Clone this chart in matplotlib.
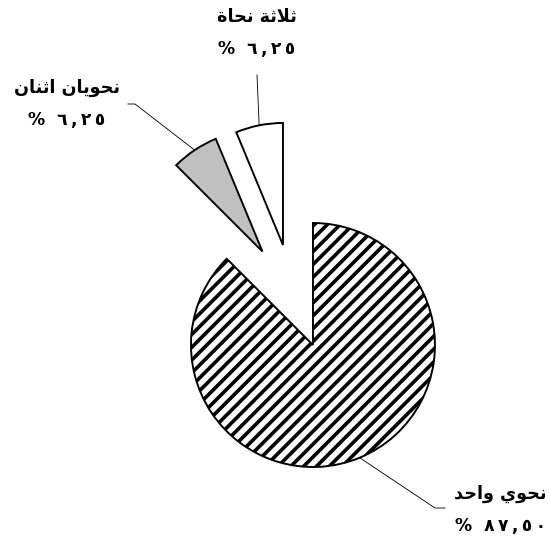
import numpy as np
import matplotlib
matplotlib.use('Agg')
import matplotlib.pyplot as plt

# Data (share of classes by number of grammarians)
labels = ['نحوي واحد', 'نحويان اثنان', 'ثلاثة نحاة']
values = [87.50, 6.25, 6.25]
value_text = ['% ٨٧,٥٠', '% ٦,٢٥', '% ٦,٢٥']
explode = [0.417, 0.458, 0.443]
colors = ['white', '#c0c0c0', 'white']
hatches = ['//', None, None]

# Arabic presentation forms: isolated, final, initial, medial
FORMS = {
    'ا': ('\uFE8D', '\uFE8E', None, None),
    'ث': ('\uFE99', '\uFE9A', '\uFE9B', '\uFE9C'),
    'ل': ('\uFEDD', '\uFEDE', '\uFEDF', '\uFEE0'),
    'ة': ('\uFE93', '\uFE94', None, None),
    'ن': ('\uFEE5', '\uFEE6', '\uFEE7', '\uFEE8'),
    'ح': ('\uFEA1', '\uFEA2', '\uFEA3', '\uFEA4'),
    'و': ('\uFEED', '\uFEEE', None, None),
    'ي': ('\uFEF1', '\uFEF2', '\uFEF3', '\uFEF4'),
    'د': ('\uFEA9', '\uFEAA', None, None),
    'لا': ('\uFEFB', '\uFEFC', None, None),
}


def shape(text):
    # matplotlib does no arabic shaping, so join letters and reverse by hand
    words = []
    for word in text.split(' '):
        toks = []
        i = 0
        while i < len(word):
            if word[i:i + 2] == 'لا':
                toks.append('لا')
                i += 2
            else:
                toks.append(word[i])
                i += 1
        out = ''
        for j, t in enumerate(toks):
            iso, fin, ini, med = FORMS[t]
            prev = j > 0 and FORMS[toks[j - 1]][2] is not None
            nxt = ini is not None and j < len(toks) - 1
            if prev and nxt:
                out += med
            elif prev:
                out += fin
            elif nxt:
                out += ini
            else:
                out += iso
        words.append(out)
    return ' '.join(words)[::-1]


def spaced(text):
    # the original font sets the digits far apart
    return '\u2009'.join(c for c in text if c != ' ').replace('%\u2009', '%  ')


DPI = 77
W, H = 549, 545
R = 122.0            # pie radius in pixels
CX, CY = 293.5, 298  # pie centre in pixels (from top left)

plt.rcParams['hatch.linewidth'] = 3.4
plt.rcParams['font.family'] = ['DejaVu Sans']

fig = plt.figure(figsize=(W / DPI, H / DPI), dpi=DPI, facecolor='white')
ax = fig.add_axes([0, 0, 1, 1])

wedges, _ = ax.pie(values, explode=explode, colors=colors, startangle=90,
                   counterclock=False, radius=1,
                   wedgeprops=dict(edgecolor='black', linewidth=1.8))
for w, h in zip(wedges, hatches):
    if h:
        w.set_hatch(h)

ax.set_xlim(-CX / R, (W - CX) / R)
ax.set_ylim(-(H - CY) / R, CY / R)
ax.set_aspect('equal')
ax.axis('off')


def px(x, y):
    return (x - CX) / R, (CY - y) / R


# label anchor positions (pixels) and leader line elbows
label_pos = [(546, 494), (67, 88), (257, 17)]
label_ha = ['right', 'center', 'center']
elbows = [[(435, 508), (445, 508)],
          [(135, 104), (128, 104)],
          [(257, 75)]]

for w, lab, val, pos, ha, elb in zip(wedges, labels, value_text, label_pos,
                                     label_ha, elbows):
    mid = np.deg2rad((w.theta1 + w.theta2) / 2)
    cx, cy = w.center
    pts = [(cx + w.r * np.cos(mid), cy + w.r * np.sin(mid))] + [px(*e) for e in elb]
    xs, ys = zip(*pts)
    ax.plot(xs, ys, color='black', linewidth=0.8)
    ax.text(*px(*pos), shape(lab), ha=ha, va='center',
            fontsize=16.5, fontweight='bold')
    ax.text(*px(pos[0], pos[1] + 32), spaced(val), ha=ha, va='center',
            fontsize=16, fontweight='bold')

fig.savefig('out.png', dpi=DPI, facecolor='white')
